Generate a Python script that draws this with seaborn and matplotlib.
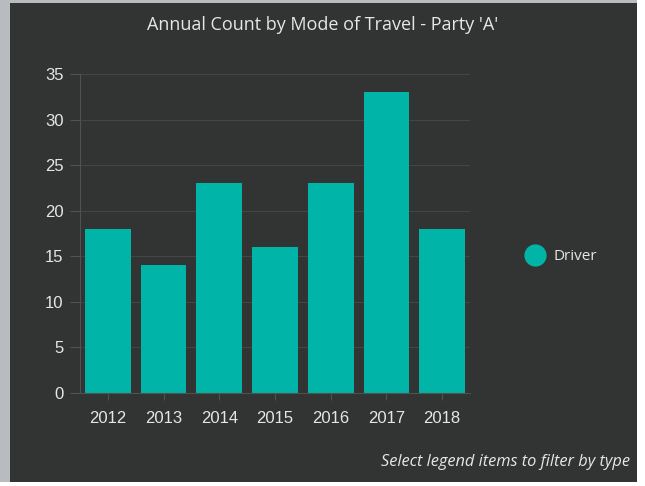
import matplotlib.pyplot as plt
import matplotlib.patches as patches
from matplotlib.lines import Line2D
import pandas as pd
import seaborn as sns

# data
years = ["2012", "2013", "2014", "2015", "2016", "2017", "2018"]
counts = [18, 14, 23, 16, 23, 33, 18]
series_name = "Driver"

df = pd.DataFrame({"year": years, "count": counts})

bg = "#323433"
bar_color = "#00b5a7"
text_color = "#e6e6e6"

sns.set_style("dark")
plt.rcParams["font.family"] = ["Liberation Sans", "DejaVu Sans"]

fig = plt.figure(figsize=(6.45, 4.86), dpi=100, facecolor="white")

# panel background with light grey frame on left / top
fig.patches.append(patches.Rectangle((0, 4 / 486), 637 / 645, 482 / 486,
                                     transform=fig.transFigure,
                                     facecolor="#b8bcc0", edgecolor="none", zorder=-2))
fig.patches.append(patches.Rectangle((10 / 645, 4 / 486), 627 / 645, 479 / 486,
                                     transform=fig.transFigure, facecolor=bg,
                                     edgecolor="none", zorder=-1))

ax = fig.add_axes([80 / 645, 1 - 393 / 486, 390 / 645, 319 / 486])
ax.set_facecolor(bg)

sns.barplot(data=df, x="year", y="count", color=bar_color, width=0.82,
            saturation=1, linewidth=0, ax=ax)

ax.set_ylim(0, 35)
ax.set_yticks(range(0, 36, 5))
ax.grid(axis="y", color="#444645", linewidth=0.8)
ax.grid(axis="x", visible=False)
ax.set_axisbelow(True)
ax.set_xlabel("")
ax.set_ylabel("")

for side in ["top", "right"]:
    ax.spines[side].set_visible(False)
ax.spines["left"].set_color("#505251")
ax.spines["bottom"].set_color("#505251")
ax.tick_params(axis="y", colors="#505251", labelcolor=text_color, labelsize=12,
               length=7, width=0.8, left=True, pad=5)
ax.tick_params(axis="x", colors="#505251", labelcolor=text_color, labelsize=12,
               length=5, width=0.8, bottom=True, pad=8)

# title
fig.text(323 / 645, 1 - 25 / 486, "Annual Count by Mode of Travel - Party 'A'",
         color=text_color, fontsize=13, ha="center", va="center",
         family=["Open Sans", "DejaVu Sans"])

# legend
handle = Line2D([], [], marker="o", linestyle="", markersize=15,
                markerfacecolor=bar_color, markeredgecolor=bar_color)
fig.legend([handle], [series_name], loc="center left",
           bbox_to_anchor=(506 / 645, 1 - 257 / 486), frameon=False,
           labelcolor=text_color, handletextpad=0.2,
           prop={"family": ["Open Sans", "DejaVu Sans"], "size": 11})

# footnote
fig.text(630 / 645, 1 - 462 / 486, "Select legend items to filter by type",
         color=text_color, fontsize=11.8, ha="right", va="center", style="italic",
         family=["Open Sans", "DejaVu Sans"])

fig.savefig("out.png", dpi=100, facecolor=fig.get_facecolor())
